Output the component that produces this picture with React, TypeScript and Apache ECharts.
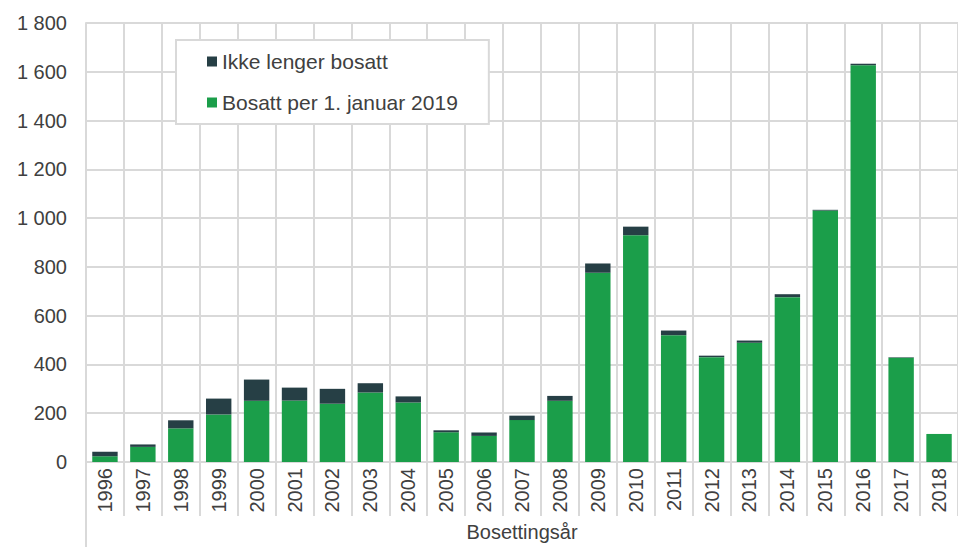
import React, { useEffect, useRef } from "react";
import * as echarts from "echarts";

const years = ["1996","1997","1998","1999","2000","2001","2002","2003","2004","2005","2006","2007","2008","2009","2010","2011","2012","2013","2014","2015","2016","2017","2018"];
const bosatt = [24, 62, 138, 195, 251, 252, 239, 285, 244, 122, 107, 172, 251, 776, 930, 520, 430, 489, 676, 1031, 1627, 427, 115];
const ikkeBosatt = [18, 10, 33, 65, 87, 53, 61, 38, 25, 8, 14, 18, 20, 38, 35, 19, 6, 9, 12, 3, 6, 2, 0];
const yTicks = [0, 200, 400, 600, 800, 1000, 1200, 1400, 1600, 1800];

const GRID = "#d9d9d9";
const TEXT = "#404040";
const FONT = "Liberation Sans, Arial, sans-serif";

export default function App() {
  const ref = useRef<HTMLDivElement>(null);
  useEffect(() => {
    if (!ref.current) return;
    const chart = echarts.init(ref.current, undefined, { renderer: "svg" });
    chart.setOption({
      animation: false,
      textStyle: { fontFamily: FONT },
      grid: { left: 86, top: 23, right: -10, bottom: 82, containLabel: false },
      legend: {
        left: 176,
        top: 40,
        orient: "vertical",
        data: ["Ikke lenger bosatt", "Bosatt per 1. januar 2019"],
        icon: "rect",
        itemWidth: 10,
        itemHeight: 10,
        itemGap: 20,
        padding: [11, 31, 11, 31],
        backgroundColor: "#ffffff",
        borderColor: GRID,
        borderWidth: 2,
        textStyle: { fontSize: 21, color: TEXT, lineHeight: 20, padding: [0, 0, 0, 0], fontFamily: FONT },
      },
      xAxis: {
        type: "category",
        data: years,
        boundaryGap: true,
        name: "Bosettingsår",
        nameLocation: "middle",
        nameGap: 60,
        nameTextStyle: { fontSize: 20, color: TEXT, fontFamily: FONT },
        axisLine: { show: true, lineStyle: { color: GRID, width: 2 } },
        axisTick: { show: true, length: 54, interval: 0, lineStyle: { color: GRID, width: 2 } },
        axisLabel: { rotate: 90, fontSize: 20, color: TEXT, margin: 6, interval: 0, fontFamily: FONT },
        splitLine: { show: true, interval: 0, lineStyle: { color: GRID, width: 2 } },
      },
      yAxis: {
        type: "value",
        min: 0,
        max: 1800,
        interval: 200,
        axisLine: { show: true, lineStyle: { color: GRID, width: 2 } },
        axisTick: { show: false },
        axisLabel: {
          fontSize: 20,
          color: TEXT,
          margin: 19,
          fontFamily: FONT,
          formatter: (v: number) => (yTicks.includes(v) ? String(v).replace(/\B(?=(\d{3})+(?!\d))/g, " ") : ""),
        },
        splitLine: { show: true, lineStyle: { color: GRID, width: 2 } },
      },
      graphic: [
        {
          type: "line",
          shape: { x1: 86, y1: 465, x2: 86, y2: 547 },
          style: { stroke: GRID, lineWidth: 2 },
          silent: true,
        },
      ],
      series: [
        {
          name: "Bosatt per 1. januar 2019",
          type: "bar",
          stack: "total",
          data: bosatt,
          barCategoryGap: "33%",
          itemStyle: { color: "#1b9e4a" },
        },
        {
          name: "Ikke lenger bosatt",
          type: "bar",
          stack: "total",
          data: ikkeBosatt,
          barCategoryGap: "33%",
          itemStyle: { color: "#263f45" },
        },
      ],
    });
    return () => chart.dispose();
  }, []);
  return <div ref={ref} style={{ width: 958, height: 547, position: "absolute", left: 0, top: 0 }} />;
}
